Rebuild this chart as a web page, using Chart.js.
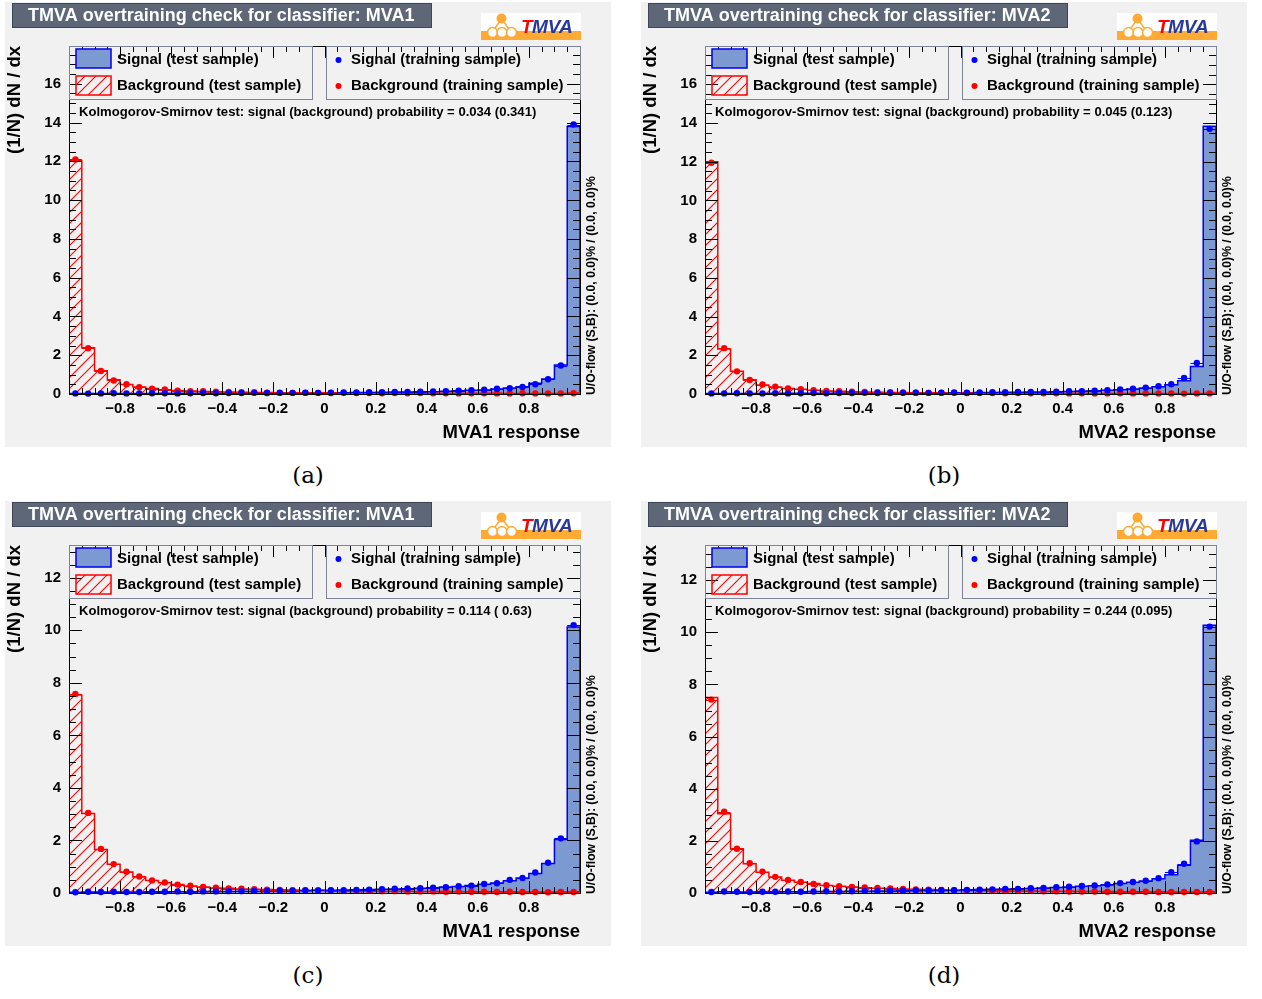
<!DOCTYPE html>
<html>
<head>
<meta charset="utf-8">
<script src="https://cdn.jsdelivr.net/npm/chart.js@4.4.0/dist/chart.umd.min.js"></script>
<style>
  body { margin: 0; background: #fff; width: 1262px; height: 999px; position: relative; overflow: hidden; }
  canvas { position: absolute; }
  .cap { position: absolute; width: 80px; text-align: center; font-family: 'DejaVu Serif', 'Liberation Serif', serif; font-size: 23px; color: #000; }
</style>
</head>
<body>
<canvas id="pa" width="606" height="445" style="left:5px;top:2px"></canvas>
<canvas id="pb" width="606" height="445" style="left:641px;top:2px"></canvas>
<canvas id="pc" width="606" height="445" style="left:5px;top:501px"></canvas>
<canvas id="pd" width="606" height="445" style="left:641px;top:501px"></canvas>
<div class="cap" style="left:268px;top:462px">(a)</div>
<div class="cap" style="left:904px;top:462px">(b)</div>
<div class="cap" style="left:268px;top:962px">(c)</div>
<div class="cap" style="left:904px;top:962px">(d)</div>
<script>
// bin edges of the response histograms (40 bins)
const binEdges = [-1, -0.95, -0.9, -0.85, -0.8, -0.75, -0.7, -0.65, -0.6, -0.55, -0.5, -0.45, -0.4, -0.35, -0.3, -0.25, -0.2, -0.15, -0.1, -0.05,
  0, 0.05, 0.1, 0.15, 0.2, 0.25, 0.3, 0.35, 0.4, 0.45, 0.5, 0.55, 0.6, 0.65, 0.7, 0.75, 0.8, 0.85, 0.9, 0.95, 1];

// (a) MVA1
const sigTestA = [0.03,0.03,0.03,0.03,0.03,0.03,0.03,0.04,0.04,0.04, 0.04,0.04,0.05,0.05,0.05,0.05,0.05,0.06,0.06,0.06, 0.07,0.07,0.08,0.08,0.09,0.10,0.10,0.11,0.12,0.14, 0.17,0.19,0.20,0.26,0.31,0.38,0.55,0.78,1.50,13.80];
const sigTrainA = [0.03,0.02,0.03,0.04,0.03,0.03,0.04,0.04,0.03,0.04, 0.05,0.04,0.05,0.05,0.06,0.05,0.06,0.06,0.07,0.06, 0.07,0.08,0.08,0.09,0.09,0.10,0.11,0.12,0.13,0.15, 0.17,0.19,0.22,0.27,0.30,0.36,0.50,0.76,1.47,13.90];
const bkgTestA = [12.05,2.38,1.20,0.73,0.49,0.36,0.28,0.22,0.18,0.15, 0.13,0.11,0.10,0.09,0.08,0.08,0.07,0.07,0.06,0.06, 0.06,0.05,0.05,0.05,0.05,0.05,0.04,0.04,0.04,0.04, 0.04,0.04,0.04,0.04,0.03,0.03,0.03,0.03,0.03,0.05];
const bkgTrainA = [12.10,2.36,1.19,0.70,0.50,0.35,0.27,0.23,0.17,0.15, 0.14,0.12,0.10,0.09,0.09,0.07,0.07,0.06,0.06,0.06, 0.05,0.06,0.05,0.05,0.04,0.05,0.04,0.05,0.04,0.04, 0.03,0.04,0.04,0.03,0.03,0.04,0.03,0.03,0.03,0.04];

// (b) MVA2
const sigTestB = [0.03,0.03,0.03,0.03,0.03,0.04,0.04,0.04,0.04,0.04, 0.05,0.05,0.05,0.05,0.05,0.06,0.06,0.06,0.07,0.07, 0.07,0.08,0.08,0.09,0.09,0.10,0.10,0.12,0.13,0.15, 0.17,0.19,0.22,0.26,0.31,0.38,0.48,0.69,1.42,13.84];
const sigTrainB = [0.03,0.03,0.04,0.03,0.03,0.04,0.03,0.04,0.05,0.04, 0.05,0.05,0.06,0.05,0.05,0.06,0.07,0.06,0.07,0.08, 0.07,0.08,0.09,0.09,0.10,0.10,0.11,0.12,0.14,0.15, 0.17,0.20,0.24,0.27,0.33,0.40,0.50,0.83,1.60,13.70];
const bkgTestB = [12.00,2.32,1.18,0.73,0.47,0.36,0.28,0.24,0.19,0.16, 0.14,0.12,0.10,0.09,0.08,0.08,0.07,0.07,0.06,0.06, 0.05,0.05,0.05,0.05,0.04,0.04,0.04,0.04,0.04,0.04, 0.03,0.03,0.03,0.03,0.03,0.03,0.03,0.03,0.03,0.04];
const bkgTrainB = [11.95,2.37,1.17,0.72,0.49,0.38,0.29,0.25,0.20,0.16, 0.15,0.12,0.11,0.09,0.09,0.08,0.07,0.06,0.06,0.06, 0.05,0.05,0.05,0.04,0.05,0.04,0.04,0.04,0.03,0.04, 0.03,0.03,0.04,0.03,0.03,0.03,0.03,0.02,0.03,0.03];

// (c) MVA1
const sigTestC = [0.03,0.04,0.04,0.04,0.04,0.04,0.05,0.05,0.05,0.05, 0.06,0.06,0.06,0.07,0.07,0.08,0.08,0.09,0.09,0.10, 0.10,0.11,0.12,0.13,0.14,0.15,0.16,0.18,0.20,0.23, 0.25,0.29,0.33,0.38,0.47,0.57,0.74,1.12,2.04,10.13];
const sigTrainC = [0.03,0.05,0.04,0.05,0.04,0.04,0.05,0.05,0.06,0.05, 0.06,0.06,0.07,0.07,0.08,0.08,0.09,0.09,0.10,0.10, 0.11,0.11,0.12,0.13,0.14,0.16,0.17,0.18,0.20,0.22, 0.26,0.28,0.34,0.37,0.50,0.57,0.78,1.15,2.08,10.20];
const bkgTestC = [7.54,3.03,1.66,1.09,0.80,0.61,0.48,0.39,0.32,0.27, 0.23,0.19,0.18,0.15,0.14,0.13,0.12,0.11,0.10,0.10, 0.09,0.09,0.08,0.08,0.07,0.07,0.07,0.06,0.06,0.06, 0.05,0.05,0.05,0.05,0.05,0.04,0.04,0.04,0.04,0.05];
const bkgTrainC = [7.58,3.05,1.68,1.10,0.81,0.63,0.48,0.40,0.32,0.28, 0.23,0.20,0.17,0.16,0.14,0.13,0.12,0.11,0.11,0.10, 0.09,0.08,0.08,0.08,0.07,0.07,0.06,0.06,0.06,0.05, 0.06,0.05,0.05,0.04,0.05,0.04,0.04,0.03,0.04,0.04];

// (d) MVA2
const sigTestD = [0.03,0.05,0.04,0.04,0.05,0.05,0.05,0.05,0.06,0.06, 0.06,0.07,0.07,0.08,0.08,0.09,0.09,0.10,0.10,0.11, 0.12,0.13,0.14,0.15,0.16,0.17,0.19,0.21,0.23,0.26, 0.28,0.31,0.36,0.41,0.46,0.55,0.70,1.06,2.02,10.27];
const sigTrainD = [0.04,0.06,0.05,0.04,0.05,0.05,0.06,0.05,0.06,0.07, 0.06,0.07,0.08,0.08,0.09,0.09,0.10,0.10,0.11,0.11, 0.12,0.13,0.14,0.16,0.16,0.18,0.19,0.22,0.24,0.27, 0.29,0.33,0.38,0.42,0.47,0.57,0.80,1.12,1.98,10.22];
const bkgTestD = [7.50,3.04,1.70,1.12,0.80,0.61,0.49,0.41,0.36,0.29, 0.26,0.23,0.20,0.18,0.17,0.15,0.14,0.13,0.12,0.11, 0.10,0.10,0.09,0.09,0.08,0.08,0.07,0.07,0.07,0.06, 0.06,0.06,0.05,0.05,0.05,0.05,0.04,0.04,0.04,0.05];
const bkgTrainD = [7.42,3.12,1.70,1.14,0.82,0.62,0.50,0.42,0.35,0.30, 0.26,0.23,0.21,0.19,0.17,0.16,0.14,0.13,0.12,0.11, 0.10,0.10,0.09,0.08,0.08,0.08,0.07,0.07,0.06,0.06, 0.06,0.05,0.05,0.05,0.05,0.04,0.04,0.04,0.04,0.04];

const ksTexts = ['0.034 (0.341)', '0.045 (0.123)', '0.114 ( 0.63)', '0.244 (0.095)'];
const mvaNames = ['MVA1', 'MVA2', 'MVA1', 'MVA2'];
const yMaxes = [17.95, 17.98, 13.25, 13.35];

const SIG_FILL = '#7d99d1', SIG_LINE = '#0000ee', BKG = '#ff0000';
const FONT = "'Liberation Sans', Arial, Helvetica, sans-serif";

function hatch() {
  const c = document.createElement('canvas');
  c.width = 11; c.height = 11;
  const g = c.getContext('2d');
  g.strokeStyle = BKG; g.lineWidth = 1.1;
  g.beginPath();
  g.moveTo(-1, 12); g.lineTo(12, -1);
  g.moveTo(-1, 1); g.lineTo(1, -1);
  g.moveTo(10, 12); g.lineTo(12, 10);
  g.stroke();
  return c;
}

// histogram outline: points at left bin edges, stepped
function histPoints(vals) {
  const pts = [{ x: binEdges[0], y: 0 }];
  vals.forEach((v, i) => pts.push({ x: binEdges[i], y: v }));
  pts.push({ x: binEdges[vals.length], y: vals[vals.length - 1] });
  pts.push({ x: binEdges[vals.length], y: 0 });
  return pts;
}
function centerPoints(vals) {
  return vals.map((v, i) => ({ x: (binEdges[i] + binEdges[i + 1]) / 2, y: v, lo: binEdges[i], hi: binEdges[i + 1] }));
}

const rootDecor = {
  id: 'rootDecor',
  beforeDraw(chart, args, o) {
    const ctx = chart.ctx;
    ctx.save();
    ctx.fillStyle = '#f1f1f1';
    ctx.fillRect(0, 0, chart.width, chart.height);
    // title box
    ctx.fillStyle = '#5d6778';
    ctx.fillRect(7, 1, 420, 25);
    ctx.strokeStyle = '#3e4656';
    ctx.strokeRect(7.5, 1.5, 419, 24);
    ctx.fillStyle = '#fff';
    ctx.font = 'bold 18px ' + FONT;
    ctx.textBaseline = 'middle';
    ctx.fillText('TMVA overtraining check for classifier: ' + o.mva, 23, 14);
    // logo
    ctx.fillStyle = '#fff';
    ctx.fillRect(476, 11, 100, 27);
    ctx.fillStyle = '#ffaa33';
    ctx.fillRect(476, 29, 100, 9);
    ctx.strokeStyle = '#ffaa33'; ctx.lineWidth = 1.5;
    ctx.beginPath(); ctx.moveTo(496.5, 17); ctx.lineTo(487.5, 29.5); ctx.lineTo(506, 29.5); ctx.closePath(); ctx.stroke();
    ctx.beginPath(); ctx.arc(496.5, 16.5, 5, 0, Math.PI * 2); ctx.fillStyle = '#ffaa33'; ctx.fill();
    [487.5, 497, 506.5].forEach(cx => {
      ctx.beginPath(); ctx.arc(cx, 30.5, 5, 0, Math.PI * 2);
      ctx.fillStyle = '#fff'; ctx.fill(); ctx.stroke();
    });
    ctx.font = 'italic bold 19px ' + FONT;
    ctx.textBaseline = 'alphabetic';
    ctx.fillStyle = '#ff0000';
    ctx.fillText('T', 516, 31);
    ctx.fillStyle = '#27389a';
    ctx.fillText('MVA', 527, 31);
    ctx.restore();
  },
  beforeDatasetDraw(chart, args) {
    const ds = chart.data.datasets[args.index];
    if (!ds.errBars) return;
    const ctx = chart.ctx, xs = chart.scales.x, ys = chart.scales.y;
    ctx.save();
    ctx.strokeStyle = ds.pointBackgroundColor; ctx.lineWidth = 1;
    ctx.beginPath();
    ds.data.forEach(p => {
      const y = Math.round(ys.getPixelForValue(p.y)) + 0.5;
      ctx.moveTo(xs.getPixelForValue(p.lo), y);
      ctx.lineTo(xs.getPixelForValue(p.hi), y);
    });
    ctx.stroke();
    ctx.restore();
  },
  afterDatasetsDraw(chart, args, o) {
    const ctx = chart.ctx, a = chart.chartArea, xs = chart.scales.x, ys = chart.scales.y;
    ctx.save();
    ctx.strokeStyle = '#000'; ctx.lineWidth = 1;
    ctx.beginPath();
    // x ticks, bottom and top
    for (let k = 0; k <= 40; k++) {
      const px = Math.round(xs.getPixelForValue(-1 + k * 0.05)) + 0.5;
      const len = k % 4 === 0 ? 12 : 6;
      ctx.moveTo(px, a.bottom); ctx.lineTo(px, a.bottom - len);
      ctx.moveTo(px, a.top); ctx.lineTo(px, a.top + len);
    }
    // y ticks, left and right
    for (let k = 0; k * 0.5 <= ys.max; k++) {
      const py = Math.round(ys.getPixelForValue(k * 0.5)) + 0.5;
      const len = k % 4 === 0 ? 13 : 7;
      ctx.moveTo(a.left, py); ctx.lineTo(a.left + len, py);
      ctx.moveTo(a.right, py); ctx.lineTo(a.right - len, py);
    }
    ctx.stroke();
    ctx.strokeRect(a.left + 0.5, a.top + 0.5, a.right - a.left, a.bottom - a.top);

    // legends
    ctx.strokeStyle = '#7c8597'; ctx.lineWidth = 1;
    ctx.strokeRect(a.left + 0.5, a.top + 0.5, 243, 53);
    ctx.strokeRect(321.5, a.top + 0.5, a.right - 321, 53);
    ctx.fillStyle = SIG_FILL;
    ctx.fillRect(71, 47, 35, 19);
    ctx.strokeStyle = SIG_LINE; ctx.lineWidth = 1.5;
    ctx.strokeRect(71, 47, 35, 19);
    ctx.fillStyle = ctx.createPattern(hatch(), 'repeat');
    ctx.fillRect(71, 74, 35, 19);
    ctx.strokeStyle = BKG;
    ctx.strokeRect(71, 74, 35, 19);
    ctx.fillStyle = '#0000ff';
    ctx.beginPath(); ctx.arc(333.5, 58, 3, 0, Math.PI * 2); ctx.fill();
    ctx.fillStyle = '#ff0000';
    ctx.beginPath(); ctx.arc(333.5, 84, 3, 0, Math.PI * 2); ctx.fill();
    ctx.fillStyle = '#000';
    ctx.font = 'bold 15px ' + FONT;
    ctx.textBaseline = 'middle';
    ctx.fillText('Signal (test sample)', 112, 58);
    ctx.fillText('Background (test sample)', 112, 84);
    ctx.fillText('Signal (training sample)', 346, 58);
    ctx.fillText('Background (training sample)', 346, 84);

    // KS text
    ctx.font = 'bold 13.1px ' + FONT;
    ctx.fillText('Kolmogorov-Smirnov test: signal (background) probability = ' + o.ks, 74, 110);

    // axis titles
    ctx.font = 'bold 18.5px ' + FONT;
    ctx.textAlign = 'right';
    ctx.fillText(o.mva + ' response', a.right, 431);
    ctx.save();
    ctx.translate(10, a.top);
    ctx.rotate(-Math.PI / 2);
    ctx.fillText('(1/N) dN / dx', 0, 0);
    ctx.restore();
    // under/overflow note
    ctx.save();
    ctx.translate(586.5, a.bottom + 1);
    ctx.rotate(-Math.PI / 2);
    ctx.textAlign = 'left';
    ctx.font = 'bold 12.2px ' + FONT;
    ctx.fillText('U/O-flow (S,B): (0.0, 0.0)% / (0.0, 0.0)%', 0, 0);
    ctx.restore();
    ctx.restore();
  }
};

function makePanel(id, i, sigTest, sigTrain, bkgTest, bkgTrain) {
  const ctx = document.getElementById(id).getContext('2d');
  const tickFont = { family: FONT, weight: 'bold', size: 15 };
  new Chart(ctx, {
    type: 'line',
    data: {
      datasets: [
        { data: centerPoints(sigTrain), showLine: false, pointRadius: 3.2, pointBorderWidth: 0,
          pointBackgroundColor: '#0000ff', errBars: true, order: 0, clip: 5 },
        { data: centerPoints(bkgTrain), showLine: false, pointRadius: 3.2, pointBorderWidth: 0,
          pointBackgroundColor: '#ff0000', errBars: true, order: 0, clip: 5 },
        { data: histPoints(bkgTest), stepped: 'before', pointRadius: 0, borderColor: BKG, borderWidth: 1.5,
          fill: 'origin', backgroundColor: ctx.createPattern(hatch(), 'repeat'), order: 1 },
        { data: histPoints(sigTest), stepped: 'before', pointRadius: 0, borderColor: SIG_LINE, borderWidth: 1.5,
          fill: 'origin', backgroundColor: SIG_FILL, order: 2 }
      ]
    },
    options: {
      responsive: false,
      devicePixelRatio: 1,
      animation: false,
      layout: { padding: { top: 44, right: 31, left: 0, bottom: 0 } },
      plugins: {
        legend: { display: false },
        tooltip: { enabled: false },
        rootDecor: { mva: mvaNames[i], ks: ksTexts[i] }
      },
      scales: {
        x: {
          type: 'linear', min: -1, max: 1,
          grid: { display: false, drawTicks: false },
          border: { display: true, color: '#000', width: 1 },
          ticks: {
            stepSize: 0.2, autoSkip: false, maxRotation: 0, padding: 6, color: '#000', font: tickFont,
            callback: v => {
              if (Math.abs(Math.abs(v) - 1) < 1e-6) return '';
              const s = Math.abs(v) < 1e-9 ? '0' : v.toFixed(1);
              return s.replace('-', '\u2212');
            }
          },
          afterFit: s => { s.height = 53; }
        },
        y: {
          min: 0, max: yMaxes[i],
          grid: { display: false, drawTicks: false },
          border: { display: true, color: '#000', width: 1 },
          ticks: {
            stepSize: 2, autoSkip: false, padding: 8, color: '#000', font: tickFont,
            callback: v => (Math.abs(v / 2 - Math.round(v / 2)) < 1e-6 ? String(Math.round(v)) : '')
          },
          afterFit: s => { s.width = 64; }
        }
      }
    },
    plugins: [rootDecor]
  });
}

makePanel('pa', 0, sigTestA, sigTrainA, bkgTestA, bkgTrainA);
makePanel('pb', 1, sigTestB, sigTrainB, bkgTestB, bkgTrainB);
makePanel('pc', 2, sigTestC, sigTrainC, bkgTestC, bkgTrainC);
makePanel('pd', 3, sigTestD, sigTrainD, bkgTestD, bkgTrainD);
</script>
</body>
</html>
